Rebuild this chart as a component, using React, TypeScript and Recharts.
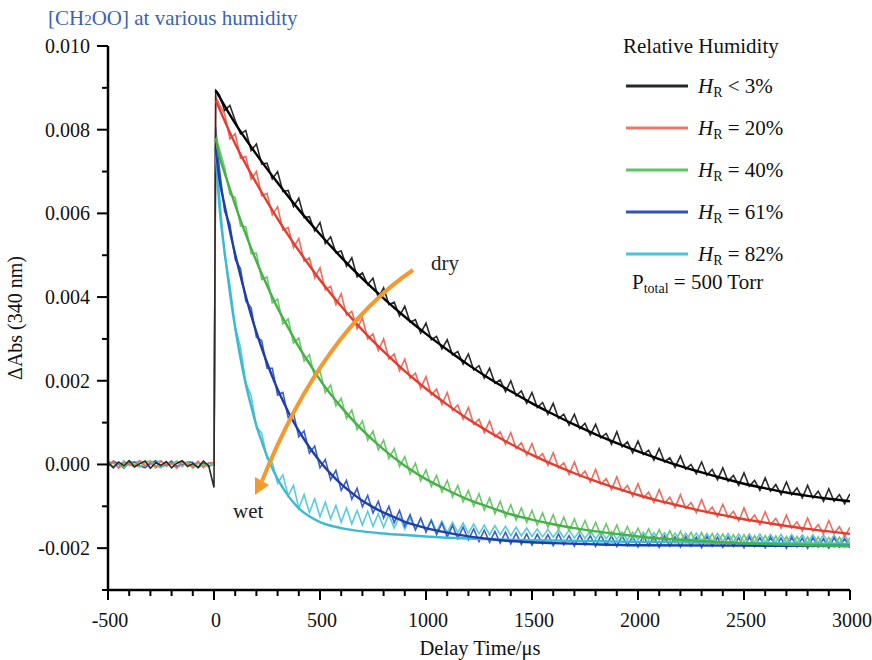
import { Line, LineChart, XAxis, YAxis } from 'recharts';

// values are read in mAbs (1 = 0.001 ΔAbs); tick labels convert back
const traceTime = [
  -500, -475, -450, -425, -400, -375, -350, -325, -300, -275, -250, -225, -200, -175, -150, -125, -100, -75, -50, -25,
  0, 8,
  25, 50, 75, 100, 125, 150, 175, 200, 225, 250, 275, 300, 325, 350, 375, 400, 425, 450, 475, 500,
  525, 550, 575, 600, 625, 650, 675, 700, 725, 750, 775, 800, 825, 850, 875, 900, 925, 950, 975, 1000,
  1025, 1050, 1075, 1100, 1125, 1150, 1175, 1200, 1225, 1250, 1275, 1300, 1325, 1350, 1375, 1400, 1425, 1450, 1475, 1500,
  1525, 1550, 1575, 1600, 1625, 1650, 1675, 1700, 1725, 1750, 1775, 1800, 1825, 1850, 1875, 1900, 1925, 1950, 1975, 2000,
  2025, 2050, 2075, 2100, 2125, 2150, 2175, 2200, 2225, 2250, 2275, 2300, 2325, 2350, 2375, 2400, 2425, 2450, 2475, 2500,
  2525, 2550, 2575, 2600, 2625, 2650, 2675, 2700, 2725, 2750, 2775, 2800, 2825, 2850, 2875, 2900, 2925, 2950, 2975, 3000,
];

const traceDry = [
  0.05, -0.08, 0.06, -0.03, 0.09, -0.06, 0.02, 0.08, -0.09, 0.04, -0.02, 0.07, -0.08, 0.03, 0.09, -0.05, 0.02, -0.07, 0.08, -0.03,
  -0.55, 8.94,
  8.84, 8.46, 8.58, 8.22, 7.9, 7.98, 7.5, 7.66, 7.18, 7.2,
  6.82, 7.0, 6.52, 6.55, 6.16, 6.36, 5.9, 5.92, 5.58, 5.78,
  5.28, 5.44, 5.06, 5.1, 4.74, 4.94, 4.48, 4.58, 4.3, 4.45,
  3.98, 4.22, 3.82, 3.88, 3.55, 3.78, 3.4, 3.46, 3.14, 3.38,
  2.98, 3.06, 2.76, 2.98, 2.62, 2.7, 2.4, 2.64, 2.26, 2.36,
  2.06, 2.3, 1.94, 2.02, 1.74, 2.0, 1.64, 1.76, 1.46, 1.72,
  1.36, 1.48, 1.2, 1.46, 1.1, 1.2, 0.94, 1.2, 0.86, 0.98,
  0.7, 0.96, 0.64, 0.74, 0.48, 0.78, 0.42, 0.54, 0.28, 0.56,
  0.24, 0.34, 0.1, 0.38, 0.06, 0.16, -0.07, 0.2, -0.11, 0.0,
  -0.22, 0.06, -0.26, -0.12, -0.37, -0.08, -0.4, -0.26, -0.5, -0.2,
  -0.52, -0.38, -0.62, -0.32, -0.64, -0.48, -0.72, -0.42, -0.72, -0.56,
  -0.8, -0.5, -0.8, -0.64, -0.88, -0.58, -0.88, -0.72, -0.94, -0.7,
];

const trace20 = [
  -0.03, 0.07, -0.09, 0.05, 0.01, -0.06, 0.09, -0.03, 0.05, -0.08, 0.08, -0.02, 0.03, -0.09, 0.06, 0.0, -0.05, 0.08, -0.06, 0.03,
  0.05, 8.8,
  8.6, 8.38, 7.78, 7.9, 7.32, 7.36, 6.82, 7.0, 6.42, 6.48,
  5.96, 6.16, 5.6, 5.66, 5.18, 5.4, 4.86, 4.94, 4.46, 4.7,
  4.17, 4.26, 3.82, 4.08, 3.57, 3.66, 3.24, 3.5, 3.0, 3.12,
  2.72, 3.0, 2.52, 2.64, 2.24, 2.52, 2.06, 2.18, 1.82, 2.1,
  1.66, 1.8, 1.43, 1.72, 1.29, 1.42, 1.08, 1.36, 0.96, 1.08,
  0.76, 1.04, 0.66, 0.78, 0.48, 0.76, 0.38, 0.52, 0.22, 0.5,
  0.14, 0.26, -0.02, 0.28, -0.08, 0.04, -0.24, 0.06, -0.29, -0.16,
  -0.42, -0.12, -0.47, -0.34, -0.6, -0.3, -0.64, -0.5, -0.76, -0.46,
  -0.8, -0.66, -0.91, -0.6, -0.93, -0.78, -1.03, -0.72, -1.05, -0.91,
  -1.15, -0.84, -1.16, -1.02, -1.25, -0.95, -1.26, -1.12, -1.35, -1.04,
  -1.36, -1.21, -1.44, -1.13, -1.44, -1.29, -1.52, -1.21, -1.52, -1.37,
  -1.59, -1.28, -1.59, -1.44, -1.66, -1.34, -1.65, -1.49, -1.72, -1.5,
];

const trace40 = [
  0.07, -0.05, 0.03, -0.08, 0.08, 0.0, -0.06, 0.05, 0.09, -0.03, -0.08, 0.05, 0.01, 0.08, -0.05, 0.06, -0.09, 0.03, 0.0, -0.06,
  0.02, 7.85,
  7.55, 7.1, 6.45, 6.38, 5.7, 5.68, 5.04, 5.05, 4.42, 4.48,
  3.86, 3.95, 3.36, 3.48, 2.9, 3.02, 2.47, 2.62, 2.08, 2.24,
  1.72, 1.9, 1.4, 1.58, 1.1, 1.3, 0.83, 1.04, 0.58, 0.8,
  0.35, 0.58, 0.14, 0.38, -0.05, 0.19, -0.23, 0.03, -0.39, -0.13,
  -0.53, -0.26, -0.66, -0.38, -0.78, -0.5, -0.89, -0.62, -1.0, -0.7,
  -1.09, -0.8, -1.18, -0.88, -1.26, -0.96, -1.33, -1.04, -1.39, -1.1,
  -1.45, -1.16, -1.5, -1.2, -1.55, -1.26, -1.59, -1.3, -1.63, -1.34,
  -1.67, -1.38, -1.7, -1.42, -1.73, -1.45, -1.76, -1.48, -1.78, -1.52,
  -1.8, -1.54, -1.82, -1.56, -1.84, -1.58, -1.85, -1.6, -1.86, -1.62,
  -1.88, -1.63, -1.89, -1.65, -1.9, -1.66, -1.91, -1.68, -1.92, -1.68,
  -1.93, -1.7, -1.93, -1.7, -1.94, -1.71, -1.95, -1.72, -1.95, -1.72,
  -1.96, -1.73, -1.96, -1.73, -1.96, -1.74, -1.97, -1.74, -1.97, -1.75,
];

const trace61 = [
  -0.05, 0.08, 0.01, -0.09, 0.05, 0.06, -0.03, -0.08, 0.03, 0.09, -0.06, 0.0, 0.08, -0.05, -0.01, 0.06, 0.05, -0.08, 0.03, -0.03,
  0.0, 8.05,
  7.1, 6.05, 5.75, 4.9, 4.68, 3.9, 3.75, 3.04, 2.96, 2.3,
  2.3, 1.66, 1.72, 1.12, 1.22, 0.66, 0.8, 0.27, 0.44, -0.08,
  0.12, -0.37, -0.14, -0.62, -0.38, -0.83, -0.57, -1.01, -0.74, -1.16,
  -0.88, -1.28, -1.0, -1.39, -1.1, -1.48, -1.2, -1.56, -1.28, -1.62,
  -1.34, -1.68, -1.4, -1.73, -1.46, -1.77, -1.5, -1.8, -1.54, -1.84,
  -1.57, -1.86, -1.6, -1.88, -1.62, -1.9, -1.64, -1.91, -1.66, -1.93,
  -1.67, -1.9, -1.68, -1.94, -1.66, -1.92, -1.7, -1.95, -1.68, -1.92,
  -1.7, -1.96, -1.69, -1.93, -1.71, -1.96, -1.7, -1.94, -1.72, -1.97,
  -1.7, -1.94, -1.72, -1.98, -1.71, -1.95, -1.73, -1.97, -1.72, -1.95,
  -1.74, -1.99, -1.72, -1.95, -1.74, -1.98, -1.73, -1.96, -1.75, -1.99,
  -1.73, -1.96, -1.75, -1.99, -1.74, -1.96, -1.76, -2.0, -1.74, -1.97,
  -1.76, -2.0, -1.75, -1.97, -1.77, -2.0, -1.75, -1.97, -1.77, -1.99,
];

const trace82 = [
  0.08, 0.03, -0.06, 0.09, -0.03, 0.05, 0.08, -0.05, 0.0, 0.06, 0.09, -0.05, 0.05, -0.06, 0.08, 0.03, -0.03, 0.06, -0.08, 0.05,
  0.0, 7.5,
  6.5, 5.0, 4.3, 3.3, 2.8, 1.95, 1.65, 0.9, 0.75, 0.15,
  0.05, -0.45, -0.25, -0.75, -0.5, -1.05, -0.72, -1.15, -0.82, -1.25,
  -0.9, -1.3, -0.98, -1.38, -1.04, -1.42, -1.1, -1.45, -1.12, -1.48,
  -1.18, -1.5, -1.2, -1.52, -1.25, -1.55, -1.28, -1.56, -1.3, -1.58,
  -1.32, -1.6, -1.35, -1.62, -1.38, -1.63, -1.4, -1.65, -1.42, -1.66,
  -1.45, -1.68, -1.46, -1.68, -1.48, -1.7, -1.5, -1.71, -1.52, -1.72,
  -1.54, -1.73, -1.55, -1.74, -1.56, -1.75, -1.57, -1.76, -1.58, -1.77,
  -1.58, -1.78, -1.6, -1.78, -1.6, -1.79, -1.61, -1.8, -1.62, -1.8,
  -1.62, -1.81, -1.63, -1.81, -1.63, -1.82, -1.64, -1.82, -1.64, -1.83,
  -1.64, -1.83, -1.65, -1.84, -1.65, -1.84, -1.65, -1.85, -1.66, -1.85,
  -1.66, -1.85, -1.66, -1.86, -1.67, -1.86, -1.67, -1.86, -1.67, -1.87,
  -1.68, -1.87, -1.68, -1.87, -1.68, -1.88, -1.69, -1.88, -1.69, -1.88,
];

// fitted decays
const fitTimeSlow = [8, 100, 200, 300, 400, 500, 600, 700, 800, 900, 1000, 1100, 1200, 1300, 1400, 1500, 1600, 1700, 1800, 1900, 2000, 2100, 2200, 2300, 2400, 2500, 2600, 2700, 2800, 2900, 3000];
const fitDry = [8.94, 8.15, 7.41, 6.73, 6.09, 5.5, 4.95, 4.44, 3.97, 3.53, 3.12, 2.74, 2.38, 2.05, 1.75, 1.46, 1.2, 0.95, 0.72, 0.51, 0.31, 0.13, -0.04, -0.19, -0.33, -0.46, -0.57, -0.67, -0.75, -0.82, -0.88];
const fit20 = [8.7, 7.66, 6.72, 5.87, 5.11, 4.41, 3.78, 3.21, 2.7, 2.23, 1.81, 1.43, 1.08, 0.77, 0.49, 0.23, 0.0, -0.21, -0.4, -0.57, -0.73, -0.87, -0.99, -1.11, -1.21, -1.31, -1.39, -1.47, -1.54, -1.6, -1.66];

const fitTime40 = [8, 25, 50, 75, 100, 125, 150, 175, 200, 225, 250, 275, 300, 350, 400, 450, 500, 600, 700, 800, 900, 1000, 1100, 1200, 1300, 1400, 1500, 1600, 1700, 1800, 1900, 2000, 2200, 2400, 2600, 2800, 3000];
const fit40 = [7.8, 7.38, 6.97, 6.58, 6.2, 5.84, 5.5, 5.17, 4.86, 4.56, 4.28, 4.0, 3.74, 3.27, 2.81, 2.41, 2.02, 1.37, 0.82, 0.36, -0.03, -0.35, -0.61, -0.84, -1.02, -1.19, -1.32, -1.43, -1.52, -1.6, -1.66, -1.72, -1.8, -1.86, -1.9, -1.93, -1.95];

const fitTime61 = [8, 25, 50, 75, 100, 125, 150, 175, 200, 225, 250, 275, 300, 325, 350, 375, 400, 450, 500, 550, 600, 650, 700, 750, 800, 850, 900, 950, 1000, 1100, 1200, 1300, 1400, 1500, 1600, 1800, 2000, 2500, 3000];
const fit61 = [7.55, 6.84, 6.19, 5.58, 5.02, 4.51, 4.02, 3.57, 3.16, 2.78, 2.43, 2.1, 1.8, 1.52, 1.26, 1.02, 0.8, 0.41, 0.07, -0.22, -0.47, -0.68, -0.87, -1.02, -1.15, -1.26, -1.37, -1.45, -1.52, -1.63, -1.72, -1.78, -1.83, -1.86, -1.88, -1.91, -1.93, -1.94, -1.95];

const fitTime82 = [8, 25, 50, 75, 100, 125, 150, 175, 200, 225, 250, 275, 300, 325, 350, 375, 400, 450, 500, 600, 700, 800, 1000, 1200, 1500, 2000, 2500, 3000];
const fit82 = [7.5, 6.2, 5.08, 4.1, 3.26, 2.54, 1.92, 1.4, 0.93, 0.55, 0.2, -0.09, -0.35, -0.56, -0.75, -0.91, -1.05, -1.24, -1.38, -1.52, -1.6, -1.65, -1.72, -1.77, -1.81, -1.85, -1.88, -1.9];

const xTicks = [-500, -400, -300, -200, -100, 0, 100, 200, 300, 400, 500, 600, 700, 800, 900, 1000, 1100, 1200, 1300, 1400, 1500, 1600, 1700, 1800, 1900, 2000, 2100, 2200, 2300, 2400, 2500, 2600, 2700, 2800, 2900, 3000];
const yTicks = [-3, -2, -1, 0, 1, 2, 3, 4, 5, 6, 7, 8, 9, 10];

const legendItems = [
  { op: '<', pct: '3%', color: '#1d2b2b' },
  { op: '=', pct: '20%', color: '#e8796a' },
  { op: '=', pct: '40%', color: '#62c364' },
  { op: '=', pct: '61%', color: '#3354b0' },
  { op: '=', pct: '82%', color: '#47c3da' },
];

const FONT = '"Liberation Serif", "Times New Roman", serif';

const pts = (ts: number[], vs: number[]) => ts.map((t, i) => ({ t, v: vs[i] }));

const series = [
  { name: 'HR82', trace: trace82, fitT: fitTime82, fit: fit82, dataColor: '#5ccadd', fitColor: '#3cbad2' },
  { name: 'HR61', trace: trace61, fitT: fitTime61, fit: fit61, dataColor: '#3d5fc8', fitColor: '#1f3ea6' },
  { name: 'HR40', trace: trace40, fitT: fitTime40, fit: fit40, dataColor: '#6cc86a', fitColor: '#45b245' },
  { name: 'HR20', trace: trace20, fitT: fitTimeSlow, fit: fit20, dataColor: '#f06a5d', fitColor: '#e43c2d' },
  { name: 'HR3', trace: traceDry, fitT: fitTimeSlow, fit: fitDry, dataColor: '#2b2b2b', fitColor: '#000000' },
];

function YTick(props: any) {
  const { x, y, payload } = props;
  const major = payload.value % 2 === 0;
  return (
    <g>
      <line x1={x - (major ? 11 : 6)} x2={x} y1={y} y2={y} stroke="#000" strokeWidth={2} />
      {major && (
        <text x={x - 18} y={y} dy="0.35em" textAnchor="end" fontSize={20} style={{ fontFamily: FONT }} fill="#111">
          {(payload.value / 1000).toFixed(3)}
        </text>
      )}
    </g>
  );
}

function XTick(props: any) {
  const { x, y, payload } = props;
  const major = payload.value % 500 === 0;
  return (
    <g>
      <line x1={x} x2={x} y1={y} y2={y + (major ? 10 : 6)} stroke="#000" strokeWidth={2} />
      {major && (
        <text x={x + 2} y={y + 37} textAnchor="middle" fontSize={20} style={{ fontFamily: FONT }} fill="#111">
          {payload.value}
        </text>
      )}
    </g>
  );
}

export default function App() {
  return (
    <div style={{ position: 'absolute', left: 0, top: 0, width: 872, height: 660, background: '#fff', fontFamily: FONT }}>
      <LineChart width={872} height={660} margin={{ top: 46, right: 22, bottom: 0, left: 0 }}>
        <XAxis
          type="number"
          dataKey="t"
          domain={[-500, 3000]}
          ticks={xTicks}
          interval={0}
          height={70}
          tickSize={0}
          tickMargin={0}
          tickLine={false}
          axisLine={{ stroke: '#000', strokeWidth: 2.5 }}
          tick={(p: any) => <XTick {...p} />}
          allowDataOverflow
        />
        <XAxis
          xAxisId="top"
          orientation="top"
          type="number"
          domain={[-500, 3000]}
          height={0}
          tick={false}
          tickLine={false}
          axisLine={{ stroke: '#000', strokeWidth: 3 }}
        />
        <YAxis
          type="number"
          domain={[-3, 10]}
          ticks={yTicks}
          interval={0}
          width={108}
          tickSize={0}
          tickMargin={0}
          tickLine={false}
          axisLine={{ stroke: '#000', strokeWidth: 2.5 }}
          tick={(p: any) => <YTick {...p} />}
          allowDataOverflow
        />
        <YAxis
          yAxisId="right"
          orientation="right"
          type="number"
          domain={[-3, 10]}
          width={0}
          tick={false}
          tickLine={false}
          axisLine={{ stroke: '#000', strokeWidth: 3 }}
        />
        {series.map((s) => (
          <Line
            key={s.name + '-data'}
            data={pts(traceTime, s.trace)}
            dataKey="v"
            type="linear"
            stroke={s.dataColor}
            strokeWidth={1.6}
            dot={false}
            activeDot={false}
            isAnimationActive={false}
          />
        ))}
        {series.map((s) => (
          <Line
            key={s.name + '-fit'}
            data={pts(s.fitT, s.fit)}
            dataKey="v"
            type="monotone"
            stroke={s.fitColor}
            strokeWidth={2.4}
            dot={false}
            activeDot={false}
            isAnimationActive={false}
          />
        ))}
      </LineChart>

      <svg
        width={872}
        height={660}
        style={{ position: 'absolute', left: 0, top: 0, pointerEvents: 'none', fontFamily: FONT }}
      >
        <text x={48} y={25} fontSize={21} fill="#3b63b3">
          [CH<tspan fontSize={15}>2</tspan>OO] at various humidity
        </text>

        <text x={22} y={318} fontSize={20} fill="#111" textAnchor="middle" transform="rotate(-90 22 318)">
          ΔAbs (340 nm)
        </text>
        <text x={480} y={655} fontSize={20.5} fill="#111" textAnchor="middle">
          Delay Time/μs
        </text>

        <rect x={604} y={36} width={196} height={262} fill="#fff" />
        <text x={623} y={53} fontSize={21} fill="#111">
          Relative Humidity
        </text>
        {legendItems.map((it, i) => {
          const y = 86 + i * 42;
          return (
            <g key={it.pct}>
              <line x1={626} x2={688} y1={y} y2={y} stroke={it.color} strokeWidth={3} />
              <text x={698} y={y + 7} fontSize={21} fill="#111">
                <tspan fontStyle="italic">H</tspan>
                <tspan fontSize={14} dy={4}>R</tspan>
                <tspan dy={-4}>{` ${it.op} ${it.pct}`}</tspan>
              </text>
            </g>
          );
        })}
        <text x={632} y={289} fontSize={21} fill="#111">
          P<tspan fontSize={14} dy={4}>total</tspan>
          <tspan dy={-4}> = 500 Torr</tspan>
        </text>

        <path d="M 413 270 Q 322 332 262 481" fill="none" stroke="#f39a2e" strokeWidth={4} />
        <polygon points="255,495 269,485 255,477" fill="#f39a2e" />
        <text x={431} y={270} fontSize={21} fill="#222">
          dry
        </text>
        <text x={233} y={518} fontSize={21} fill="#222">
          wet
        </text>
      </svg>
    </div>
  );
}
